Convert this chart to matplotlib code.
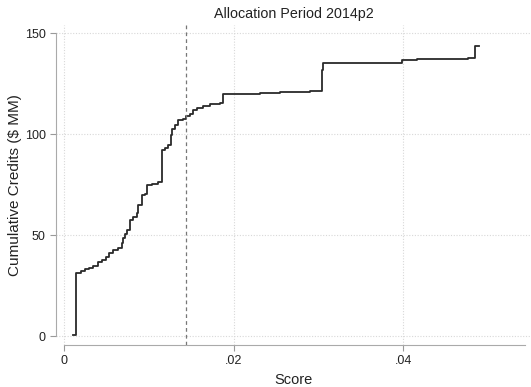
import numpy as np
import matplotlib
matplotlib.use("Agg")
import matplotlib.pyplot as plt

plt.rcParams['font.family'] = ['Liberation Sans', 'DejaVu Sans']

# cumulative credits ($ MM) stepping up at each score
score = [0.00106, 0.00138, 0.00194, 0.00244, 0.00295, 0.00342, 0.00394, 0.00441,
         0.00492, 0.00531, 0.00578, 0.00630, 0.00677, 0.00696, 0.00716, 0.00743,
         0.00775, 0.00814, 0.00854, 0.00873, 0.00913, 0.00952, 0.00979, 0.01031,
         0.01109, 0.01149, 0.01188, 0.01227, 0.01255, 0.01267, 0.01306, 0.01345,
         0.01397, 0.01436, 0.01483, 0.01522, 0.01569, 0.01640, 0.01719, 0.01837,
         0.01876, 0.02309, 0.02545, 0.02899, 0.03037, 0.03056, 0.03410, 0.03981,
         0.04165, 0.04767, 0.04846, 0.04897]
credits = [0.7, 31.3, 32.3, 33.0, 33.8, 34.8, 36.8, 37.6,
           39.3, 41.2, 42.6, 43.7, 45.9, 48.4, 50.8, 52.5,
           57.4, 59.0, 61.0, 65.0, 69.8, 70.6, 74.8, 75.6,
           76.4, 92.0, 93.2, 94.6, 99.5, 102.8, 104.8, 107.0,
           107.8, 109.0, 110.2, 111.9, 113.0, 114.2, 114.9, 115.3,
           120.1, 120.4, 120.9, 121.4, 132.0, 135.3, 135.6, 136.6,
           137.3, 137.6, 143.7, 143.7]

cutoff = 0.01432
xticks = [0, 0.02, 0.04]
xticklabels = ['0', '.02', '.04']
yticks = [0, 50, 100, 150]

fig = plt.figure(figsize=(5.31, 3.87), dpi=100)
ax = fig.add_axes([0.1055, 0.1085, 0.8945, 0.8269])

ax.step(score, credits, where='post', color='#2a2a2a', lw=1.3)
ax.axvline(cutoff, color='#777777', lw=0.9, ls=(0, (3, 2.5)))

ax.set_xlim(-0.00098, 0.05507)
ax.set_ylim(-4.46, 154.2)

# stata-like dotted grid
for y in yticks:
    ax.axhline(y, color='#d8d8d8', lw=0.8, ls=(0, (1, 1.5)), zorder=0)
for x in xticks:
    ax.axvline(x, color='#d8d8d8', lw=0.8, ls=(0, (1, 1.5)), zorder=0)

ax.set_xticks(xticks)
ax.set_xticklabels(xticklabels)
ax.set_yticks(yticks)
ax.set_yticklabels([str(v) for v in yticks])
ax.tick_params(axis='both', colors='#999999', labelcolor='#222222',
               labelsize=9, length=4, width=0.8)

for s in ['top', 'right']:
    ax.spines[s].set_visible(False)
ax.spines['left'].set_bounds(0, 150)
ax.spines['bottom'].set_bounds(0, 0.05436)
ax.spines['left'].set_color('#aaaaaa')
ax.spines['bottom'].set_color('#aaaaaa')

ax.set_title('Allocation Period 2014p2', fontsize=10.3, color='#222222', pad=5)
ax.set_xlabel('Score', fontsize=10.5, color='#222222', labelpad=4)
ax.set_ylabel('Cumulative Credits ($ MM)', fontsize=11, color='#222222', labelpad=2)

fig.savefig('out.png', dpi=100)
